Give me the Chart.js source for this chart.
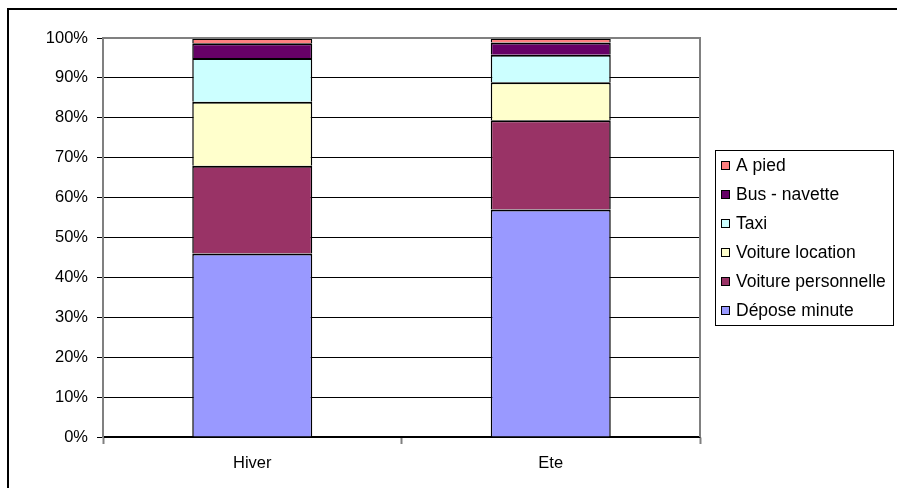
<!DOCTYPE html>
<html>
<head>
<meta charset="utf-8">
<script src="https://cdn.jsdelivr.net/npm/chart.js@4.4.1/dist/chart.umd.min.js"></script>
<style>
  html, body { margin: 0; padding: 0; background: #fff; }
  #wrap { width: 897px; height: 488px; }
</style>
</head>
<body>
<div id="wrap"><canvas id="modeChart" width="897" height="488"></canvas></div>
<script>
const categories = ['Hiver', 'Ete'];

// shares per season, in %
const deposeMinute = [46, 57];
const voiturePersonnelle = [22, 22.4];
const voitureLocation = [16, 9.5];
const taxi = [11, 6.9];
const busNavette = [3.7, 3.1];
const aPied = [1.3, 1.1];

const yTicks = [0, 10, 20, 30, 40, 50, 60, 70, 80, 90, 100];

const FONT = 'Liberation Sans, Arial, sans-serif';
Chart.defaults.font.family = FONT;
Chart.defaults.color = '#000';

// white page + outer frame on the left and top
const framePlugin = {
  id: 'frame',
  beforeDraw(chart) {
    const ctx = chart.ctx;
    ctx.save();
    ctx.fillStyle = '#fff';
    ctx.fillRect(0, 0, chart.width, chart.height);
    ctx.strokeStyle = '#000';
    ctx.lineWidth = 2;
    ctx.beginPath();
    ctx.moveTo(8, chart.height);
    ctx.lineTo(8, 9);
    ctx.lineTo(chart.width, 9);
    ctx.stroke();
    ctx.restore();
  }
};

// gray border on top/right of the plot area + boxed legend
const boxLegend = {
  id: 'boxLegend',
  afterDraw(chart) {
    const ctx = chart.ctx;
    const a = chart.chartArea;
    ctx.save();
    ctx.strokeStyle = '#808080';
    ctx.lineWidth = 2;
    ctx.beginPath();
    ctx.moveTo(a.left, a.top);
    ctx.lineTo(a.right, a.top);
    ctx.lineTo(a.right, a.bottom);
    ctx.stroke();

    ctx.strokeStyle = '#000';
    ctx.lineWidth = 1;
    ctx.strokeRect(715.5, 150.5, 178, 175);

    const sets = chart.data.datasets.slice().reverse();
    ctx.font = '17.5px ' + FONT;
    ctx.textBaseline = 'middle';
    ctx.textAlign = 'left';
    sets.forEach((ds, i) => {
      const y = 165 + i * 29;
      ctx.fillStyle = ds.backgroundColor;
      ctx.fillRect(721, y - 4, 9, 9);
      ctx.strokeStyle = '#000';
      ctx.strokeRect(721.5, y - 3.5, 8, 8);
      ctx.fillStyle = '#000';
      ctx.fillText(ds.label, 736, y + 1);
    });
    ctx.restore();
  }
};

const modeChart = document.getElementById('modeChart');

const modeChart_1 = new Chart(modeChart, {
  type: 'bar',
  data: {
    labels: categories,
    datasets: [
      { label: 'Dépose minute', data: deposeMinute, backgroundColor: '#9999FF' },
      { label: 'Voiture personnelle', data: voiturePersonnelle, backgroundColor: '#993366' },
      { label: 'Voiture location', data: voitureLocation, backgroundColor: '#FFFFCC' },
      { label: 'Taxi', data: taxi, backgroundColor: '#CCFFFF' },
      { label: 'Bus - navette', data: busNavette, backgroundColor: '#660066' },
      { label: 'A pied', data: aPied, backgroundColor: '#FF8080' }
    ].map(ds => Object.assign(ds, {
      borderColor: '#000',
      // only top edge per segment so stacked joins show as one line
      borderWidth: { top: 2, left: 1.5, right: 1.5, bottom: 0 },
      borderSkipped: false,
      barPercentage: 0.402,
      categoryPercentage: 1
    }))
  },
  options: {
    responsive: false,
    animation: false,
    layout: {
      padding: { top: 38, right: 197, left: 0, bottom: 0 }
    },
    scales: {
      x: {
        stacked: true,
        afterFit(scale) { scale.height = 51; },
        grid: {
          offset: true,
          drawOnChartArea: false,
          drawTicks: true,
          tickLength: 7,
          tickColor: '#808080',
          tickWidth: 2
        },
        border: { color: '#000', width: 1.5 },
        ticks: {
          padding: 10,
          font: { size: 16.5 }
        }
      },
      y: {
        stacked: true,
        min: 0,
        max: 100,
        afterFit(scale) { scale.width = 103; },
        afterBuildTicks(scale) { scale.ticks = yTicks.map(v => ({ value: v })); },
        grid: {
          color: '#000',
          lineWidth: 1,
          tickLength: 6,
          tickColor: '#000'
        },
        border: { color: '#808080', width: 2 },
        ticks: {
          padding: 9,
          font: { size: 16.5 },
          callback: v => v + '%'
        }
      }
    },
    plugins: {
      legend: { display: false },
      tooltip: { enabled: false }
    }
  },
  plugins: [framePlugin, boxLegend]
});
</script>
</body>
</html>
